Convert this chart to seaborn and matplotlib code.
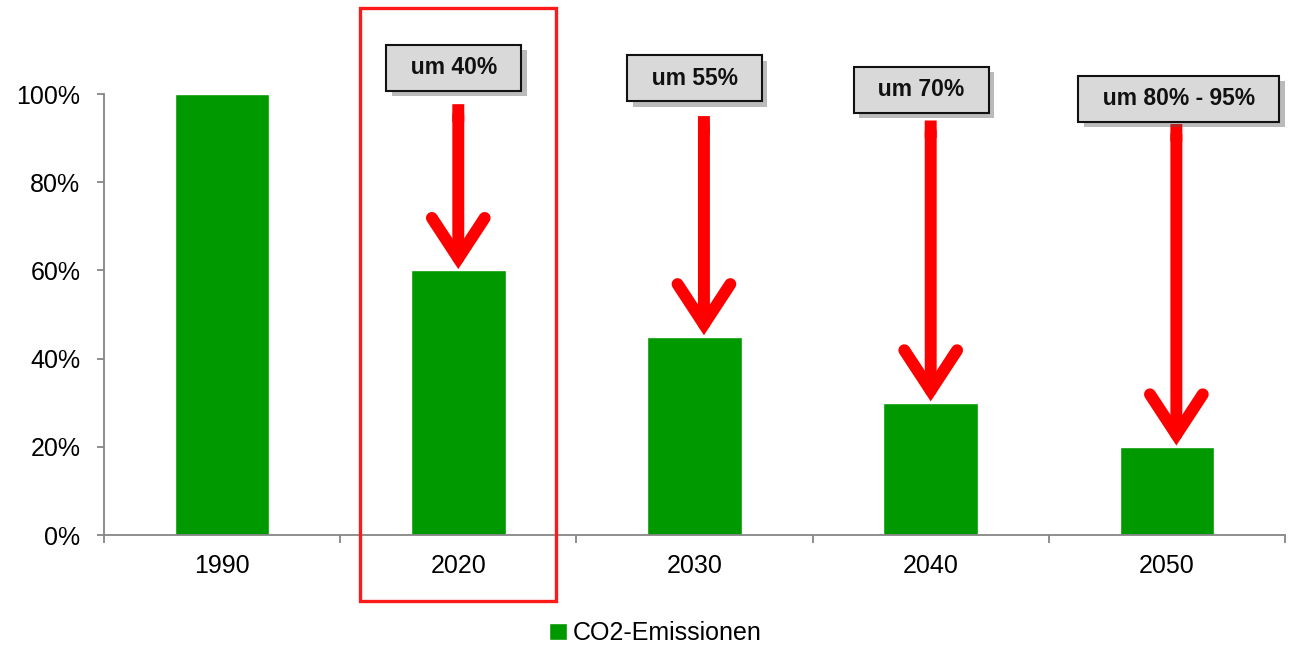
import numpy as np
import pandas as pd
import matplotlib
matplotlib.use('Agg')
import matplotlib.pyplot as plt
import matplotlib.patches as mpatches
import matplotlib.patheffects as pe
import seaborn as sns

#----------------- data ------------------

years = ['1990', '2020', '2030', '2040', '2050']
emissions = [100, 60, 45, 30, 20]
series_name = 'CO2-Emissionen'

# reduction labels, which bar they point at, and where the arrow starts / box sits
labels = ['um 40%', 'um 55%', 'um 70%', 'um 80% - 95%']
label_years = ['2020', '2030', '2040', '2050']
arrow_x = [1.0, 2.04, 3.0, 4.04]
arrow_start = [97.7, 95.0, 94.0, 93.2]
box_x = [0.98, 2.0, 2.96, 4.05]
box_y = [106.0, 103.6, 101.0, 98.9]

highlight_year = '2020'

df = pd.DataFrame({'year': years, 'value': emissions})

#----------------- plot ------------------

sns.set_style('white')
plt.rcParams['font.family'] = ['Liberation Sans', 'DejaVu Sans']
plt.rcParams['text.color'] = 'black'
plt.rcParams['xtick.labelcolor'] = 'black'
plt.rcParams['ytick.labelcolor'] = 'black'

fig = plt.figure(figsize=(12.98, 6.45), dpi=100)
ax = fig.add_axes([0.0801, 0.1705, 0.9099, 0.6837])

sns.barplot(data=df, x='year', y='value', color='#009900', saturation=1,
            width=0.4, label=series_name, ax=ax)
handles, lbls = ax.get_legend_handles_labels()
if ax.get_legend() is not None:
    ax.get_legend().remove()

ax.set_ylim(0, 100)
ax.set_xlim(-0.5, len(years) - 0.5)
ax.set_yticks(np.arange(0, 101, 20))
ax.set_yticklabels([str(v) + '%' for v in range(0, 101, 20)])
ax.set_xlabel('')
ax.set_ylabel('')

for s in ['top', 'right']:
    ax.spines[s].set_visible(False)
for s in ['left', 'bottom']:
    ax.spines[s].set_color('#868686')
    ax.spines[s].set_linewidth(1.3)

ax.set_xticks(np.arange(-0.5, len(years), 1.0), minor=True)
ax.tick_params(axis='x', which='major', length=0, pad=14, labelsize=18)
ax.tick_params(axis='x', which='minor', length=6, width=1.3, color='#868686', direction='out')
ax.tick_params(axis='y', length=5, width=1.3, color='#868686', direction='out', pad=12, labelsize=18)
ax.tick_params(bottom=True, left=True, which='both')

# red frame around the highlighted year
hi = years.index(highlight_year)
frame = mpatches.Rectangle((hi - 0.415, -15), 0.83, 134.5, fill=False, ec='#ff1a1a',
                           lw=2.4, clip_on=False, zorder=5)
ax.add_patch(frame)

# arrows + labels
for lab, yr, ax_x, y0, bx, by in zip(labels, label_years, arrow_x, arrow_start, box_x, box_y):
    top = emissions[years.index(yr)]
    # flat top of the shaft
    ax.annotate('', xy=(ax_x, y0 - 4), xytext=(ax_x, y0),
                arrowprops=dict(arrowstyle='-', color='#ff0000', lw=8.6, capstyle='butt',
                                shrinkA=0, shrinkB=0),
                annotation_clip=False, zorder=6)
    ax.annotate('', xy=(ax_x, top + 0.3), xytext=(ax_x, y0 - 2.5),
                arrowprops=dict(arrowstyle='->,head_length=2.9,head_width=1.9',
                                color='#ff0000', lw=8.6, capstyle='round',
                                joinstyle='miter', shrinkA=0, shrinkB=0),
                annotation_clip=False, zorder=6)
    t = ax.text(bx, by, '  ' + lab + '  ', ha='center', va='center', fontsize=16.5,
                fontweight='bold', color='#111111', zorder=7, clip_on=False,
                bbox=dict(boxstyle='square,pad=0.5', fc='#d9d9d9', ec='#111111', lw=1.5))
    t.get_bbox_patch().set_path_effects([pe.SimplePatchShadow(offset=(4, -4), shadow_rgbFace='#555555', alpha=0.4),
                                         pe.Normal()])

fig.legend(handles, lbls, loc='center', bbox_to_anchor=(0.505, 0.018), frameon=False,
           fontsize=18, handlelength=0.7, handleheight=0.7, handletextpad=0.25)

plt.savefig('out.png', dpi=100)
